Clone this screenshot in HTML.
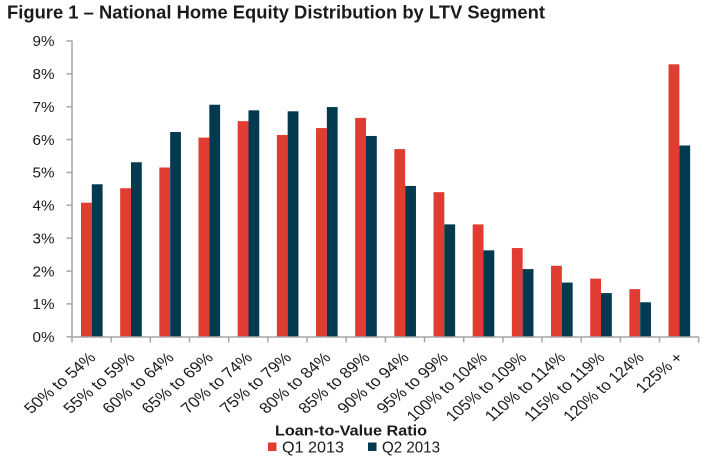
<!DOCTYPE html>
<html>
<head>
<meta charset="utf-8">
<style>
  html, body { margin: 0; padding: 0; background: #ffffff; }
  svg { display: block; }
  text { font-family: "Liberation Sans", Arial, sans-serif; fill: #1a1a1a; }
</style>
</head>
<body>
<svg width="710" height="462" viewBox="0 0 710 462" xmlns="http://www.w3.org/2000/svg">
  <rect x="0" y="0" width="710" height="462" fill="#ffffff"/>

  <!-- Title -->
  <text x="7" y="18.5" font-size="18" font-weight="bold" fill="#000" textLength="538" lengthAdjust="spacingAndGlyphs">Figure 1 – National Home Equity Distribution by LTV Segment</text>

  <!-- Y axis labels -->
  <g font-size="14.5" text-anchor="end">
    <text x="54.5" y="342" textLength="22" lengthAdjust="spacingAndGlyphs">0%</text>
    <text x="54.5" y="309.1" textLength="22" lengthAdjust="spacingAndGlyphs">1%</text>
    <text x="54.5" y="276.3" textLength="22" lengthAdjust="spacingAndGlyphs">2%</text>
    <text x="54.5" y="243.4" textLength="22" lengthAdjust="spacingAndGlyphs">3%</text>
    <text x="54.5" y="210.5" textLength="22" lengthAdjust="spacingAndGlyphs">4%</text>
    <text x="54.5" y="177.7" textLength="22" lengthAdjust="spacingAndGlyphs">5%</text>
    <text x="54.5" y="144.8" textLength="22" lengthAdjust="spacingAndGlyphs">6%</text>
    <text x="54.5" y="111.9" textLength="22" lengthAdjust="spacingAndGlyphs">7%</text>
    <text x="54.5" y="79.0" textLength="22" lengthAdjust="spacingAndGlyphs">8%</text>
    <text x="54.5" y="46.2" textLength="22" lengthAdjust="spacingAndGlyphs">9%</text>
  </g>

  <!-- Bars Q1 (red) -->
  <g fill="#E03C31">
    <rect x="81.0" y="202.69" width="10.8" height="134.11"/>
    <rect x="120.17" y="188.23" width="10.8" height="148.57"/>
    <rect x="159.34" y="167.52" width="10.8" height="169.28"/>
    <rect x="198.51" y="137.61" width="10.8" height="199.19"/>
    <rect x="237.68" y="121.17" width="10.8" height="215.63"/>
    <rect x="276.85" y="134.98" width="10.8" height="201.82"/>
    <rect x="316.02" y="128.08" width="10.8" height="208.72"/>
    <rect x="355.19" y="117.89" width="10.8" height="218.91"/>
    <rect x="394.36" y="149.11" width="10.8" height="187.69"/>
    <rect x="433.53" y="192.17" width="10.8" height="144.63"/>
    <rect x="472.70" y="224.38" width="10.8" height="112.42"/>
    <rect x="511.87" y="248.05" width="10.8" height="88.75"/>
    <rect x="551.04" y="265.80" width="10.8" height="71.00"/>
    <rect x="590.21" y="278.62" width="10.8" height="58.18"/>
    <rect x="629.38" y="289.14" width="10.8" height="47.66"/>
    <rect x="668.55" y="64.31" width="10.8" height="272.49"/>
  </g>

  <!-- Bars Q2 (navy) -->
  <g fill="#033A50">
    <rect x="91.8" y="184.28" width="10.8" height="152.52"/>
    <rect x="130.97" y="162.26" width="10.8" height="174.54"/>
    <rect x="170.14" y="132.02" width="10.8" height="204.78"/>
    <rect x="209.31" y="104.74" width="10.8" height="232.06"/>
    <rect x="248.48" y="110.33" width="10.8" height="226.47"/>
    <rect x="287.65" y="111.31" width="10.8" height="225.49"/>
    <rect x="326.82" y="107.04" width="10.8" height="229.76"/>
    <rect x="365.99" y="135.96" width="10.8" height="200.84"/>
    <rect x="405.16" y="185.93" width="10.8" height="150.87"/>
    <rect x="444.33" y="224.38" width="10.8" height="112.42"/>
    <rect x="483.50" y="250.35" width="10.8" height="86.45"/>
    <rect x="522.67" y="269.09" width="10.8" height="67.71"/>
    <rect x="561.84" y="282.56" width="10.8" height="54.24"/>
    <rect x="601.01" y="293.08" width="10.8" height="43.72"/>
    <rect x="640.18" y="302.29" width="10.8" height="34.51"/>
    <rect x="679.35" y="145.50" width="10.8" height="191.30"/>
  </g>

  <!-- Axes -->
  <g stroke="#A6A6A6" stroke-width="1.5" fill="none">
    <line x1="72" y1="40.5" x2="72" y2="337.5"/>
    <line x1="71.5" y1="337" x2="699" y2="337"/>
    <!-- y ticks -->
    <line x1="66.5" y1="336.8" x2="72" y2="336.8"/>
    <line x1="66.5" y1="303.9" x2="72" y2="303.9"/>
    <line x1="66.5" y1="271.1" x2="72" y2="271.1"/>
    <line x1="66.5" y1="238.2" x2="72" y2="238.2"/>
    <line x1="66.5" y1="205.3" x2="72" y2="205.3"/>
    <line x1="66.5" y1="172.5" x2="72" y2="172.5"/>
    <line x1="66.5" y1="139.6" x2="72" y2="139.6"/>
    <line x1="66.5" y1="106.7" x2="72" y2="106.7"/>
    <line x1="66.5" y1="73.8" x2="72" y2="73.8"/>
    <line x1="66.5" y1="41.0" x2="72" y2="41.0"/>
    <!-- x ticks -->
    <line x1="72" y1="337" x2="72" y2="342.5"/>
    <line x1="111.17" y1="337" x2="111.17" y2="342.5"/>
    <line x1="150.34" y1="337" x2="150.34" y2="342.5"/>
    <line x1="189.51" y1="337" x2="189.51" y2="342.5"/>
    <line x1="228.68" y1="337" x2="228.68" y2="342.5"/>
    <line x1="267.85" y1="337" x2="267.85" y2="342.5"/>
    <line x1="307.02" y1="337" x2="307.02" y2="342.5"/>
    <line x1="346.19" y1="337" x2="346.19" y2="342.5"/>
    <line x1="385.36" y1="337" x2="385.36" y2="342.5"/>
    <line x1="424.53" y1="337" x2="424.53" y2="342.5"/>
    <line x1="463.70" y1="337" x2="463.70" y2="342.5"/>
    <line x1="502.87" y1="337" x2="502.87" y2="342.5"/>
    <line x1="542.04" y1="337" x2="542.04" y2="342.5"/>
    <line x1="581.21" y1="337" x2="581.21" y2="342.5"/>
    <line x1="620.38" y1="337" x2="620.38" y2="342.5"/>
    <line x1="659.55" y1="337" x2="659.55" y2="342.5"/>
    <line x1="698.72" y1="337" x2="698.72" y2="342.5"/>
  </g>

  <!-- X category labels (rotated) -->
  <g font-size="15" text-anchor="end">
    <text transform="translate(96.6,358.5) scale(1.17,1) rotate(-45)" textLength="79" lengthAdjust="spacingAndGlyphs">50% to 54%</text>
    <text transform="translate(135.8,358.5) scale(1.17,1) rotate(-45)" textLength="79" lengthAdjust="spacingAndGlyphs">55% to 59%</text>
    <text transform="translate(174.9,358.5) scale(1.17,1) rotate(-45)" textLength="79" lengthAdjust="spacingAndGlyphs">60% to 64%</text>
    <text transform="translate(214.1,358.5) scale(1.17,1) rotate(-45)" textLength="79" lengthAdjust="spacingAndGlyphs">65% to 69%</text>
    <text transform="translate(253.3,358.5) scale(1.17,1) rotate(-45)" textLength="79" lengthAdjust="spacingAndGlyphs">70% to 74%</text>
    <text transform="translate(292.4,358.5) scale(1.17,1) rotate(-45)" textLength="79" lengthAdjust="spacingAndGlyphs">75% to 79%</text>
    <text transform="translate(331.6,358.5) scale(1.17,1) rotate(-45)" textLength="79" lengthAdjust="spacingAndGlyphs">80% to 84%</text>
    <text transform="translate(370.8,358.5) scale(1.17,1) rotate(-45)" textLength="79" lengthAdjust="spacingAndGlyphs">85% to 89%</text>
    <text transform="translate(409.9,358.5) scale(1.17,1) rotate(-45)" textLength="79" lengthAdjust="spacingAndGlyphs">90% to 94%</text>
    <text transform="translate(449.1,358.5) scale(1.17,1) rotate(-45)" textLength="79" lengthAdjust="spacingAndGlyphs">95% to 99%</text>
    <text transform="translate(488.3,358.5) scale(1.17,1) rotate(-45)" textLength="90" lengthAdjust="spacingAndGlyphs">100% to 104%</text>
    <text transform="translate(527.5,358.5) scale(1.17,1) rotate(-45)" textLength="90" lengthAdjust="spacingAndGlyphs">105% to 109%</text>
    <text transform="translate(566.6,358.5) scale(1.17,1) rotate(-45)" textLength="90" lengthAdjust="spacingAndGlyphs">110% to 114%</text>
    <text transform="translate(605.8,358.5) scale(1.17,1) rotate(-45)" textLength="90" lengthAdjust="spacingAndGlyphs">115% to 119%</text>
    <text transform="translate(645.0,358.5) scale(1.17,1) rotate(-45)" textLength="90" lengthAdjust="spacingAndGlyphs">120% to 124%</text>
    <text transform="translate(684.1,358.5) scale(1.17,1) rotate(-45)" textLength="50" lengthAdjust="spacingAndGlyphs">125% +</text>
  </g>

  <!-- Axis title -->
  <text x="275" y="435.5" font-size="15" font-weight="bold" fill="#000" textLength="152" lengthAdjust="spacingAndGlyphs">Loan-to-Value Ratio</text>

  <!-- Legend -->
  <rect x="268" y="442.5" width="8.5" height="8.5" fill="#E03C31"/>
  <text x="282" y="452.5" font-size="16" textLength="62" lengthAdjust="spacingAndGlyphs">Q1 2013</text>
  <rect x="368" y="442.5" width="8.5" height="8.5" fill="#033A50"/>
  <text x="382" y="452.5" font-size="16" textLength="58" lengthAdjust="spacingAndGlyphs">Q2 2013</text>
</svg>
</body>
</html>
